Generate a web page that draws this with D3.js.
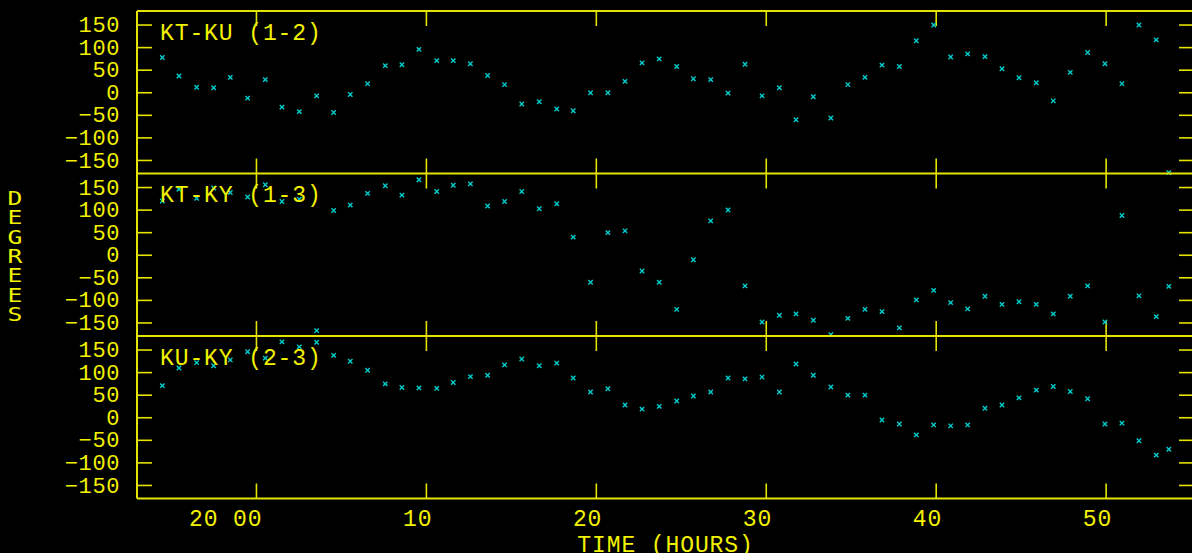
<!DOCTYPE html>
<html>
<head>
<meta charset="utf-8">
<script src="https://cdn.jsdelivr.net/npm/d3@7"></script>
<style>
  body { margin: 0; background: #000; }
  svg { display: block; }
</style>
</head>
<body>
<svg id="plot"></svg>
<script>
// Sample times (hours)
const times = [
  -5.51, -4.53, -3.49, -2.49, -1.51, -0.49, 0.55, 1.53, 2.55, 3.57,
  4.57, 5.55, 6.57, 7.61, 8.59, 9.59, 10.64, 11.61, 12.62, 13.63,
  14.63, 15.64, 16.67, 17.70, 18.67, 19.69, 20.71, 21.72, 22.72, 23.73,
  24.76, 25.74, 26.76, 27.78, 28.78, 29.78, 30.80, 31.78, 32.80, 33.83,
  34.83, 35.84, 36.84, 37.86, 38.86, 39.88, 40.88, 41.88, 42.90, 43.90,
  44.90, 45.92, 46.92, 47.92, 48.94, 49.96, 50.96, 51.96, 52.98, 53.72
];

// Phase differences (degrees) per baseline
const ktKu = [
  77, 36, 11, 10, 33, -13, 28, -33, -43, -8,
  -45, -5, 19, 59, 61, 95, 70, 70, 63, 37,
  17, -26, -21, -37, -41, -1, -1, 24, 65, 74,
  57, 30, 28, -2, 62, -8, 10, -61, -10, -57,
  17, 33, 60, 57, 114, 149, 78, 85, 79, 52,
  32, 21, -19, 44, 88, 63, 19, 149, 116, -178
];
const ktKy = [
  119, 145, 125, 148, 138, 128, 155, 118, 123, -168,
  98, 110, 136, 153, 132, 166, 140, 154, 157, 108,
  118, 140, 102, 113, 39, -61, 49, 53, -36, -61,
  -121, -11, 75, 99, -69, -149, -134, -131, -145, -177,
  -141, -121, -126, -162, -100, -79, -106, -120, -92, -110,
  -104, -110, -131, -92, -69, -149, 87, -91, -137, -70
];
const kuKy = [
  70, 109, 121, 114, 127, 145, 131, 167, 156, 166,
  137, 124, 104, 74, 66, 65, 64, 77, 90, 93,
  116, 129, 114, 120, 87, 56, 63, 27, 18, 24,
  36, 47, 56, 87, 85, 89, 56, 118, 93, 67,
  49, 49, -6, -15, -39, -17, -19, -17, 20, 27,
  43, 60, 68, 57, 41, -15, -13, -52, -84, -71
];

const panelNames = ["KT-KU (1-2)", "KT-KY (1-3)", "KU-KY (2-3)"];
const panelValues = [ktKu, ktKy, kuKy];

// Tick labels
const xTicks = [0, 10, 20, 30, 40, 50];
const xTickLabels = ["20 00", "10", "20", "30", "40", "50"];
const yTicks = [-150, -100, -50, 0, 50, 100, 150];

const width = 1192;
const height = 553;
const plotLeft = 137, plotRight = 1194, plotTop = 11, panelH = 162.5;

const yellow = "#f2f200";
const lineCol = "#e4e400";
const cyan = "#00cccc";
const font = "Liberation Mono, DejaVu Sans Mono, monospace";

const svg = d3.select("#plot")
    .attr("width", width)
    .attr("height", height)
    .attr("viewBox", [0, 0, width, height])
    .style("background", "#000");

const x = d3.scaleLinear().domain([-7, 55.2]).range([plotLeft, plotRight]);

panelValues.forEach((vals, i) => {
  const y0 = plotTop + i * panelH;
  const y1 = y0 + panelH;
  const y = d3.scaleLinear().domain([-180, 180]).range([y1, y0]);
  const g = svg.append("g");

  // Left axis with inward ticks and labels
  g.append("g")
      .attr("transform", `translate(${plotLeft},0)`)
      .call(d3.axisLeft(y).tickValues(yTicks).tickSizeInner(-15).tickSizeOuter(0).tickPadding(17))
      .call(a => a.select(".domain").remove())
      .call(a => a.selectAll("line").attr("stroke", lineCol).attr("stroke-width", 1.6))
      .call(a => a.selectAll("text")
          .attr("fill", yellow)
          .attr("font-family", font)
          .attr("font-size", 22)
          .attr("letter-spacing", 0.6));

  // Right axis, ticks only
  g.append("g")
      .attr("transform", `translate(${plotRight},0)`)
      .call(d3.axisRight(y).tickValues(yTicks).tickSizeInner(-15).tickSizeOuter(0).tickFormat(""))
      .call(a => a.select(".domain").remove())
      .call(a => a.selectAll("line").attr("stroke", lineCol).attr("stroke-width", 1.6));

  // Time ticks at top and bottom of each panel
  g.append("g")
      .attr("transform", `translate(0,${y0})`)
      .call(d3.axisBottom(x).tickValues(xTicks).tickSizeInner(15).tickSizeOuter(0).tickFormat(""))
      .call(a => a.select(".domain").remove())
      .call(a => a.selectAll("line").attr("stroke", lineCol).attr("stroke-width", 1.6));
  g.append("g")
      .attr("transform", `translate(0,${y1})`)
      .call(d3.axisTop(x).tickValues(xTicks).tickSizeInner(15).tickSizeOuter(0).tickFormat(""))
      .call(a => a.select(".domain").remove())
      .call(a => a.selectAll("line").attr("stroke", lineCol).attr("stroke-width", 1.6));

  // Frame line at panel top
  g.append("line")
      .attr("x1", plotLeft).attr("x2", plotRight)
      .attr("y1", y0).attr("y2", y0)
      .attr("stroke", lineCol).attr("stroke-width", 2);

  // Markers
  g.append("g")
    .selectAll("path")
    .data(times.map((t, k) => [t, vals[k]]))
    .join("path")
      .attr("transform", d => `translate(${x(d[0])},${y(d[1])})`)
      .attr("d", "M-2.2,-2.2L2.2,2.2M-2.2,2.2L2.2,-2.2")
      .attr("stroke", cyan)
      .attr("stroke-width", 1.4)
      .attr("fill", "none");

  // Panel title
  g.append("text")
      .attr("x", 160)
      .attr("y", y0 + 28.5)
      .attr("fill", yellow)
      .attr("font-family", font)
      .attr("font-size", 23)
      .attr("letter-spacing", 0.9)
      .text(panelNames[i]);
});

// Bottom and left frame
svg.append("line")
    .attr("x1", plotLeft).attr("x2", plotRight)
    .attr("y1", plotTop + 3 * panelH).attr("y2", plotTop + 3 * panelH)
    .attr("stroke", lineCol).attr("stroke-width", 2);
svg.append("line")
    .attr("x1", plotLeft).attr("x2", plotLeft)
    .attr("y1", plotTop).attr("y2", plotTop + 3 * panelH)
    .attr("stroke", lineCol).attr("stroke-width", 2);

// Time labels under the bottom panel
svg.append("g")
    .attr("transform", `translate(0,${plotTop + 3 * panelH})`)
    .call(d3.axisBottom(x).tickValues(xTicks).tickSize(0).tickPadding(11)
        .tickFormat((d, i) => xTickLabels[i]))
    .call(a => a.select(".domain").remove())
    .call(a => a.selectAll("text")
        .attr("x", 6)
        .attr("text-anchor", "end")
        .attr("fill", yellow)
        .attr("font-family", font)
        .attr("font-size", 23)
        .attr("letter-spacing", 0.9));

svg.append("text")
    .attr("x", (plotLeft + plotRight) / 2)
    .attr("y", 552)
    .attr("text-anchor", "middle")
    .attr("fill", yellow)
    .attr("font-family", font)
    .attr("font-size", 23)
    .attr("letter-spacing", 0.9)
    .text("TIME (HOURS)");

// Vertical axis title, one letter per line (stretched sideways like the plotter font)
svg.append("g")
  .selectAll("text")
  .data("DEGREES".split(""))
  .join("text")
    .attr("transform", (d, i) => `translate(15,${205 + i * 19.3}) scale(1.3,1)`)
    .attr("text-anchor", "middle")
    .attr("fill", yellow)
    .attr("font-family", "DejaVu Sans Mono, monospace")
    .attr("font-size", 19)
    .text(d => d);
</script>
</body>
</html>
